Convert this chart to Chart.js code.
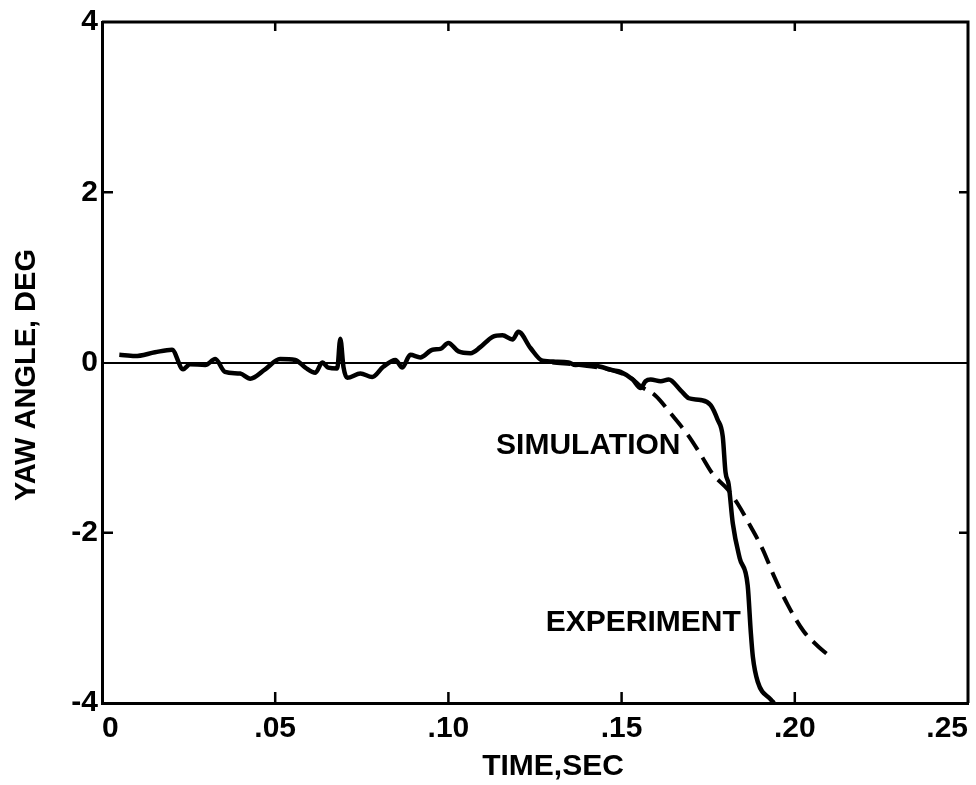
<!DOCTYPE html>
<html>
<head>
<meta charset="utf-8">
<script src="https://cdn.jsdelivr.net/npm/chart.js@4"></script>
<style>
  body { margin: 0; background: #fff; }
</style>
</head>
<body>
<canvas id="graph" width="976" height="785"></canvas>
<script>
// experiment (solid)
var timeExp = [0.005, 0.0095, 0.0153, 0.0202, 0.0234, 0.0254, 0.0298, 0.0327, 0.0355, 0.0399,
    0.0428, 0.0471, 0.0514, 0.0558, 0.0587, 0.0616, 0.0636, 0.0653, 0.0679, 0.0688,
    0.0697, 0.0708, 0.0746, 0.078, 0.0812, 0.0847, 0.0867, 0.089, 0.0919, 0.0954,
    0.0977, 0.1, 0.1029, 0.1064, 0.1092, 0.1127, 0.1156, 0.1185, 0.1202, 0.1237,
    0.1272, 0.1309, 0.1347, 0.1367, 0.141, 0.1439, 0.1474, 0.1497, 0.1532, 0.1555,
    0.1569, 0.1584, 0.1613, 0.1636, 0.1671, 0.1694, 0.1728, 0.1757, 0.1777, 0.1792,
    0.18, 0.1809, 0.1821, 0.1841, 0.1864, 0.1873, 0.1879, 0.1893, 0.1931, 0.194];
var yawExp = [0.09, 0.075, 0.12, 0.15, -0.08, -0.02, -0.03, 0.04, -0.11, -0.13,
    -0.19, -0.08, 0.04, 0.03, -0.06, -0.12, 0.0, -0.06, -0.07, 0.28,
    -0.05, -0.18, -0.13, -0.17, -0.05, 0.03, -0.06, 0.09, 0.06, 0.15,
    0.16, 0.23, 0.13, 0.11, 0.18, 0.30, 0.32, 0.27, 0.36, 0.17,
    0.02, 0.01, 0.0, -0.03, -0.02, -0.05, -0.09, -0.11, -0.2, -0.3,
    -0.22, -0.2, -0.22, -0.2, -0.33, -0.42, -0.44, -0.5, -0.67, -0.87,
    -1.29, -1.43, -1.89, -2.3, -2.62, -3.17, -3.46, -3.75, -3.96, -4.0];

// simulation (dashed)
var timeSim = [0.130, 0.140, 0.148, 0.153, 0.1555, 0.1598, 0.1642, 0.1691, 0.1728, 0.1763,
    0.1806, 0.1835, 0.1873, 0.1908, 0.1939, 0.198, 0.2026, 0.2066, 0.2104];
var yawSim = [0.0, -0.04, -0.1, -0.19, -0.28, -0.39, -0.6, -0.85, -1.08, -1.31,
    -1.49, -1.66, -1.93, -2.2, -2.5, -2.85, -3.16, -3.33, -3.46];

var xTickLabels = ['0', '.05', '.10', '.15', '.20', '.25'];
var yTickLabels = {'-4': '-4', '-2': '-2', '0': '0', '2': '2', '4': '4'};

function pts(xs, ys) {
    return xs.map(function (x, i) { return {x: x, y: ys[i]}; });
}

var FONT = '"Liberation Sans", Arial, sans-serif';

// frame on top/right, inward ticks, titles, curve labels
var paperLook = {
    id: 'paperLook',
    afterDraw: function (chart) {
        var c = chart.ctx, a = chart.chartArea;
        var xs = chart.scales.x, ys = chart.scales.y;
        c.save();
        c.strokeStyle = '#000';
        c.lineWidth = 3;
        c.beginPath();
        c.moveTo(a.left, a.top); c.lineTo(a.right, a.top); c.lineTo(a.right, a.bottom);
        c.stroke();

        c.lineWidth = 2.5;
        c.beginPath();
        xs.ticks.forEach(function (t) {
            if (t.value <= 0 || t.value >= 0.25) return;
            var px = xs.getPixelForValue(t.value);
            c.moveTo(px, a.bottom); c.lineTo(px, a.bottom - 11);
            c.moveTo(px, a.top); c.lineTo(px, a.top + 9);
        });
        ys.ticks.forEach(function (t) {
            if (t.value <= -4 || t.value >= 4 || t.value === 0) return;
            var py = ys.getPixelForValue(t.value);
            c.moveTo(a.left, py); c.lineTo(a.left + 11, py);
            c.moveTo(a.right, py); c.lineTo(a.right - 9, py);
        });
        c.stroke();

        c.fillStyle = '#000';
        c.font = 'bold 30px ' + FONT;
        c.textBaseline = 'middle';
        c.textAlign = 'center';
        c.fillText('TIME,SEC', 553, 767);

        c.save();
        c.translate(27, 375);
        c.rotate(-Math.PI / 2);
        c.font = 'bold 29px ' + FONT;
        c.fillText('YAW ANGLE, DEG', 0, 0);
        c.restore();

        c.textAlign = 'right';
        c.fillText('SIMULATION', xs.getPixelForValue(0.167), ys.getPixelForValue(-0.98));
        c.fillText('EXPERIMENT', xs.getPixelForValue(0.1844), ys.getPixelForValue(-3.06));
        c.restore();
    }
};

var ctx = document.getElementById('graph');
var graph = new Chart(ctx, {
    type: 'scatter',
    data: {
        datasets: [{
            label: 'EXPERIMENT',
            data: pts(timeExp, yawExp),
            showLine: true,
            borderColor: '#000',
            borderWidth: 4.5,
            pointRadius: 0,
            cubicInterpolationMode: 'monotone'
        }, {
            label: 'SIMULATION',
            data: pts(timeSim, yawSim),
            showLine: true,
            borderColor: '#000',
            borderWidth: 4,
            borderDash: [18, 9],
            pointRadius: 0,
            cubicInterpolationMode: 'monotone'
        }]
    },
    options: {
        responsive: false,
        animation: false,
        devicePixelRatio: 1,
        layout: { padding: { top: 15, right: 8, left: 0, bottom: 0 } },
        plugins: {
            legend: { display: false },
            tooltip: { enabled: false }
        },
        scales: {
            x: {
                type: 'linear',
                min: 0,
                max: 0.25,
                afterFit: function (scale) { scale.height = 82; },
                ticks: {
                    stepSize: 0.05,
                    align: 'inner',
                    padding: 8,
                    color: '#000',
                    font: { family: FONT, size: 30, weight: 'bold' },
                    maxRotation: 0,
                    callback: function (v, i) { return xTickLabels[i]; }
                },
                grid: { display: false, drawTicks: false },
                border: { display: true, color: '#000', width: 3 }
            },
            y: {
                min: -4,
                max: 4,
                afterFit: function (scale) { scale.width = 102; },
                ticks: {
                    stepSize: 2,
                    padding: 4,
                    color: '#000',
                    font: { family: FONT, size: 30, weight: 'bold' },
                    callback: function (v) { return yTickLabels[String(v)]; }
                },
                grid: {
                    drawTicks: false,
                    lineWidth: 2,
                    color: function (c) { return c.tick && c.tick.value === 0 ? '#000' : 'rgba(0,0,0,0)'; }
                },
                border: { display: true, color: '#000', width: 3 }
            }
        }
    },
    plugins: [paperLook]
});
</script>
</body>
</html>
